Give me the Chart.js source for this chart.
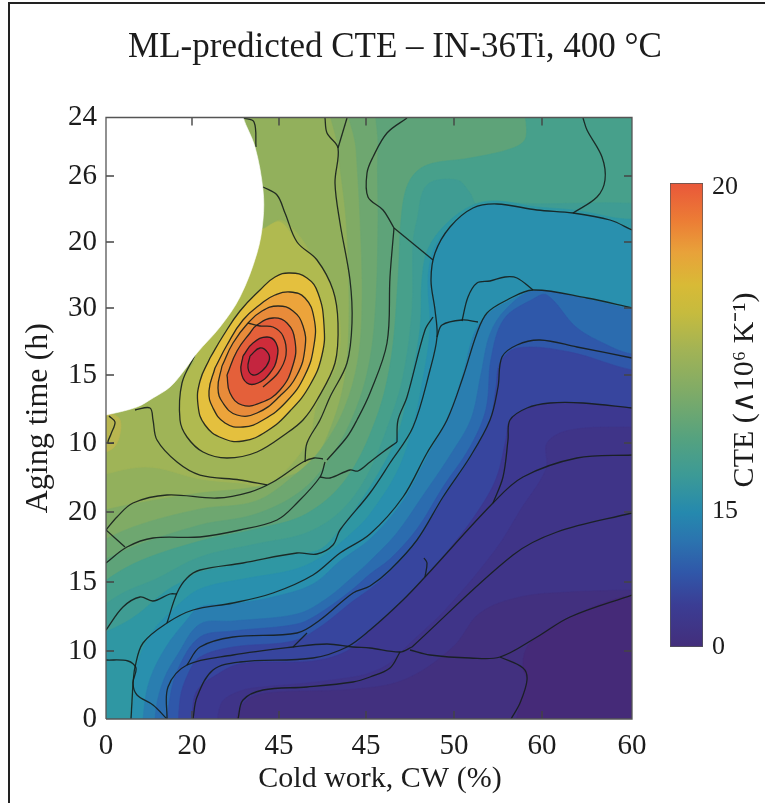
<!DOCTYPE html>
<html><head><meta charset="utf-8">
<style>html,body{margin:0;padding:0;background:#fff;width:765px;height:803px;overflow:hidden}
canvas{position:absolute;top:0;filter:blur(0.35px)}
#edgeTop{position:absolute;left:8px;top:2px;width:757px;height:2px;background:#222}
#edgeLeft{position:absolute;left:8px;top:2px;width:2px;height:801px;background:#222}</style>
<script src="https://cdn.jsdelivr.net/npm/chart.js@4/dist/chart.umd.js"></script>
</head><body>
<div id="edgeTop"></div><div id="edgeLeft"></div>
<div id="m" style="position:absolute;left:15px;top:0;width:760px;height:803px"><canvas id="main"></canvas></div>
<div id="c" style="position:absolute;left:640px;top:0;width:125px;height:803px"><canvas id="bar"></canvas></div>
<script>
const chartTitle = "ML-predicted CTE – IN-36Ti, 400 °C";
const xAxisTitle = "Cold work, CW (%)";
const yAxisTitle = "Aging time (h)";
const colorbarTitle = "CTE (∧10⁶ K⁻¹)";
const xTickLabels = ["0","20","45","45","50","60","60"];
const xTickValues = [0,86,173,260,348,436,526];
const yTickLabels = ["0","10","15","20","10","15","30","20","26","24"];
const yTickValues = [0,68,137,207,276,344,411,477,543,601.5];
const colorbarTickLabels = ["0","15","20"];
const colorbarTickValues = [0,136,460];

// filled bands, painted from the top-left plateau to the lower-right trough
const bandColors = ["#92B05C","#9FB457","#B0BA50","#B9B650","#80AB65","#6EA770","#5EA379","#47A08B","#3F9C93","#2F97A3","#2990AE","#2A7EB0","#2B6CAF","#2F58AA","#37459E","#3D3890","#3F3488","#42307F","#452A78"];
const band00 = [[-20,-20],[560,-20],[560,640],[-20,640]];
const band01 = [[-20,240],[40,252],[94,240],[134,236],[161,234],[201,276],[211,316],[231,356],[234,396],[227,429],[207,462],[191,486],[174,499],[157,490],[120,520],[-20,520]];
const band02 = [[157,490],[174,497],[191,477],[211,459],[227,429],[232,396],[229,356],[211,319],[197,299],[181,286],[151,267],[121,261],[97,267],[81,282],[74,299],[76,336],[89,364],[60,400],[120,500]];
const band02b = [[-20,310],[12,302],[14,285],[6,270],[-20,262]];
const band03 = [[-20,205],[27,215],[94,226],[150,232],[175,240],[205,255],[228,300],[240,350],[243,420],[240,500],[232,570],[228,640],[600,640],[600,-30],[-20,-30]];
const band04 = [[-20,170],[27,192],[94,210],[150,218],[190,245],[215,270],[238,310],[252,360],[256,420],[254,500],[250,570],[245,640],[600,640],[600,-30],[-20,-30]];
const band05 = [[-20,150],[27,172],[94,194],[150,205],[195,228],[225,262],[250,310],[264,360],[270,420],[272,500],[272,570],[280,640],[600,640],[600,-30],[-20,-30]];
const band06 = [[-20,125],[27,155],[94,178],[150,190],[200,205],[240,240],[270,300],[285,360],[292,440],[296,509],[304,539],[321,554],[364,561],[407,571],[420,582],[422,640],[600,640],[600,-30],[-20,-30]];
const band07 = [[-20,100],[15,125],[50,140],[94,162],[150,175],[200,186],[235,208],[262,245],[284,299],[297,342],[306,409],[307,476],[311,499],[321,534],[351,539],[364,526],[371,514],[391,518],[600,480],[600,-30],[-20,-30]];
const band08 = [[-20,78],[25,100],[60,128],[81,140],[94,147],[137,155],[191,165],[215,170],[234,190],[264,232],[290,280],[303,330],[314,390],[316,440],[322,470],[340,495],[367,514],[391,518],[431,512],[467,509],[504,502],[600,480],[600,-30],[-20,-30]];
const band09 = [[20,-30],[28,20],[30,50],[45,85],[70,112],[94,130],[137,140],[190,150],[220,165],[250,190],[264,205],[290,245],[305,285],[317,340],[324,390],[322,440],[328,470],[344,492],[367,511],[391,515],[431,509],[467,506],[504,499],[526,489],[600,470],[600,-30]];
const band10 = [[36,-30],[38,10],[44,40],[60,72],[80,98],[94,112],[127,115],[167,122],[207,135],[234,158],[264,180],[297,218],[321,262],[341,300],[357,345],[368,385],[381,404],[401,417],[427,427],[481,419],[526,409],[600,400],[600,-30]];
const band11 = [[48,-30],[50,10],[58,40],[72,65],[94,95],[127,98],[191,105],[220,120],[250,145],[264,158],[290,185],[318,225],[345,265],[365,300],[375,345],[384,385],[400,410],[427,428],[481,420],[526,410],[600,400],[600,-30]];
const band12 = [[60,-30],[63,15],[72,50],[94,82],[127,88],[191,95],[214,106],[247,130],[264,145],[284,160],[311,190],[337,232],[364,272],[380,310],[385,360],[398,400],[427,420],[441,424],[470,392],[497,376],[526,365],[600,360],[600,-30]];
const band13 = [[72,-30],[74,20],[82,45],[94,62],[127,72],[187,78],[214,92],[247,118],[264,130],[284,147],[311,177],[337,220],[364,260],[384,299],[390,332],[394,356],[411,371],[464,367],[526,349],[600,340],[600,-30]];
const band14 = [[85,-30],[87,15],[92,30],[107,42],[134,55],[207,58],[241,68],[264,88],[297,118],[319,142],[345,172],[370,205],[390,240],[400,280],[404,299],[421,310],[444,316],[477,316],[526,311],[600,305],[600,-30]];
const band15 = [[110,-30],[115,15],[134,28],[157,32],[201,36],[247,42],[264,46],[284,56],[300,72],[340,110],[390,170],[415,210],[440,250],[441,276],[464,289],[526,292],[600,292],[600,-30]];
const band16 = [[125,-30],[130,0],[140,18],[160,26],[250,30],[300,40],[347,72],[374,106],[414,122],[464,127],[526,129],[600,130],[600,-30]];
const band17 = [[405,-30],[414,16],[421,39],[417,51],[420,70],[431,82],[464,102],[526,124],[600,126],[600,-30]];
const bands = [band00,band01,band02,band02b,band03,band04,band05,band06,band07,band08,band09,band10,band11,band12,band13,band14,band15,band16,band17];

// closed rings around the peak, outermost first, each starting on its left flank
const ringColors = ["#E4C03E","#ECA43B","#E88B3A","#E4603A","#CE2C3A","#C4253F"];
const ring1 = [[104,361],[117,383],[134,408],[154,429],[169,442],[184,446],[201,441],[212,426],[218,394],[216,364],[204,334],[184,308],[161,288],[137,278],[116,281],[99,294],[92,314],[94,338],[104,361]];
const ring2 = [[109,351],[121,374],[137,399],[156,416],[169,424],[184,427],[199,421],[208,401],[208,374],[199,344],[181,318],[157,299],[137,292],[119,296],[107,311],[103,328],[109,351]];
const ring3 = [[116,353],[127,376],[142,396],[156,408],[172,413],[187,408],[197,393],[199,371],[191,344],[174,323],[151,306],[131,304],[117,316],[112,331],[116,353]];
const ring4 = [[121,344],[131,368],[144,386],[151,394],[167,401],[181,396],[189,378],[187,354],[174,329],[154,316],[136,314],[124,326],[121,344]];
const ring5 = [[137,363],[147,376],[161,382],[170,376],[171,361],[164,346],[152,336],[141,336],[135,348],[137,363]];
const ring6 = [[144,363],[154,371],[162,366],[163,358],[156,348],[147,344],[142,351],[144,363]];
const rings = [ring1,ring2,ring3,ring4,ring5,ring6];

// region with no prediction
const emptyRegion = [[-40,296],[0,304],[31,312],[47,321],[64,332],[77,347],[91,366],[114,392],[134,422],[151,466],[157,499],[157,529],[149,572],[137,602],[125,650],[-40,650]];

// open contour lines
const contours = [
 [[137,601],[148,597],[150,572]],
 [[157,532],[171,524],[179,506],[191,477],[211,459],[227,429],[232,396],[229,356],[211,319],[197,299],[181,286],[151,267],[121,261],[97,267],[81,282],[74,299],[76,336],[89,364]],
 [[219,601],[221,586],[232,571],[229,536],[234,496],[244,439],[246,396],[241,356],[224,322],[214,299],[201,276],[199,257]],
 [[241,601],[232,571]],
 [[301,601],[281,586],[267,562],[261,546],[262,522],[277,509],[288,491]],
 [[288,491],[327,459]],
 [[288,491],[284,442],[281,376],[264,326],[251,299],[241,282],[221,259]],
 [[214,242],[224,241],[244,249],[252,248],[264,257],[277,267],[291,277]],
 [[291,277],[292,299],[301,322],[319,389],[327,402]],
 [[61,96],[71,126],[81,141],[94,149],[137,156],[191,166],[211,165],[227,174],[234,189],[264,226],[284,256],[307,292],[324,349],[331,382],[329,409],[325,439],[329,466],[344,492],[367,511],[391,515],[431,509],[467,506],[504,499],[526,489]],
 [[0,89],[17,112],[34,122],[47,118],[64,125],[71,125]],
 [[0,189],[11,202],[27,216],[61,224],[111,221],[144,227],[167,237],[197,257],[208,261],[217,260]],
 [[0,156],[21,172],[47,181],[94,182],[134,189],[171,199],[191,216],[214,242],[219,257]],
 [[0,189],[19,172]],
 [[29,309],[44,311],[47,299],[51,279],[71,257],[94,244],[134,239],[161,234]],
 [[3,303],[9,297],[5,285],[2,276],[8,276]],
 [[27,36],[29,52],[37,76],[61,96],[87,109],[127,116],[167,126],[207,144],[234,166],[264,185],[297,222],[321,266],[341,299],[357,342],[371,386],[381,406],[401,419],[427,429],[481,421],[526,411]],
 [[427,429],[411,441],[399,442],[384,438],[371,436],[362,422],[356,398]],
 [[331,382],[336,394],[356,399],[372,397]],
 [[81,54],[94,72],[127,82],[191,86],[214,99],[247,126],[264,133],[284,149],[311,179],[337,222],[364,262],[384,299],[392,332],[396,362],[411,374],[434,379],[471,372],[526,361]],
 [[61,0],[62,32],[81,54],[127,64],[187,72],[221,75],[247,72],[264,71],[294,67],[306,72]],
 [[187,72],[201,86]],
 [[87,0],[91,22],[107,49],[134,57],[207,61],[241,72],[264,89],[297,119],[319,142],[387,216],[417,242],[471,261],[526,264]],
 [[387,216],[397,242],[402,279],[404,299],[421,311],[444,316],[477,316],[526,311]],
 [[319,142],[321,156],[318,161]],
 [[132,0],[137,19],[157,29],[201,32],[247,37],[264,42],[284,51],[294,67]],
 [[306,72],[407,164],[451,187],[526,206]],
 [[304,69],[324,64],[364,61],[394,62],[431,82],[464,102],[526,124]],
 [[394,62],[417,51],[421,39],[414,16],[405,0]],
 [[0,59],[22,58],[30,51],[27,36],[31,24],[47,14],[61,0]],
 [[25,0],[27,36]],
 [[477,601],[481,589],[496,562],[499,539],[491,522],[467,506]],
 [[142,396],[154,393],[167,392],[177,383],[180,364],[172,346],[157,332]]
];

const colorbarStops = [[0,"#E9573A"],[.08,"#EC7C35"],[.15,"#E8A23A"],[.22,"#D8BA36"],[.28,"#C6BB3E"],[.36,"#A2B355"],[.45,"#7FAB67"],[.55,"#55A27F"],[.63,"#3C9A96"],[.71,"#2589AE"],[.77,"#2B74AF"],[.84,"#3057A9"],[.91,"#3B3D94"],[1,"#432E7B"]];
const colorbarRange = [0,464];

const xy = a => a.map(([x,y]) => ({x,y}));
const serif = '"Liberation Serif", "Times New Roman", serif';
const ink = "#1c1c1c";
const lineInk = "rgba(22,30,28,0.9)";
const fillSet = (pts,color,t=0.35) => ({data:xy(pts),showLine:true,fill:"shape",backgroundColor:color,borderColor:color,borderWidth:0.6,pointRadius:0,tension:t});
const lineSet = (pts,t=0.35) => ({data:xy(pts),showLine:true,fill:false,borderColor:lineInk,borderWidth:1.3,pointRadius:0,tension:t});

const tickLen = 8;
const xMax = xTickValues[xTickValues.length-1], yMax = yTickValues[yTickValues.length-1];
const tickSegs = [];
const gap = {x:NaN,y:NaN};
xTickValues.slice(1,-1).forEach(v => tickSegs.push({x:v,y:0},{x:v,y:tickLen},gap,{x:v,y:yMax},{x:v,y:yMax-tickLen},gap));
yTickValues.slice(1,-1).forEach(v => tickSegs.push({x:0,y:v},{x:tickLen,y:v},gap,{x:xMax,y:v},{x:xMax-tickLen,y:v},gap));

const layered = [];
bands.forEach((b,i) => layered.push(fillSet(b,bandColors[i])));
rings.forEach((r,i) => layered.push(fillSet(r,ringColors[i],0.45)));
contours.forEach(c => layered.push(lineSet(c)));
rings.forEach(r => layered.push(lineSet(r,0.45)));
layered.push(fillSet(emptyRegion,"#ffffff",0.35));
layered.push({data:tickSegs,showLine:true,fill:false,borderColor:"#444",borderWidth:1.4,pointRadius:0,tension:0,spanGaps:false});
layered.push({data:[{x:0,y:0},{x:xMax,y:0},{x:xMax,y:yMax},{x:0,y:yMax},{x:0,y:0}],showLine:true,fill:false,borderColor:"#555",borderWidth:1.3,pointRadius:0,tension:0,clip:4});

function shiftTitle(scale,dx,dy){
  if(scale.$shifted) return; scale.$shifted=true;
  const orig=scale.drawTitle.bind(scale);
  scale.drawTitle=function(){const c=this.ctx;c.save();c.translate(dx,dy);orig();c.restore();};
}

new Chart(document.getElementById("main"),{
  type:"scatter",
  data:{datasets:layered.slice().reverse()},
  options:{
    responsive:true,maintainAspectRatio:false,animation:false,
    elements:{line:{capBezierPoints:false}},
    plugins:{
      legend:{display:false},tooltip:{enabled:false},
      title:{display:true,text:chartTitle,color:ink,font:{family:serif,size:35,weight:"normal"},padding:{top:27,bottom:48.5}}
    },
    scales:{
      x:{type:"linear",min:0,max:xMax,grid:{display:false,drawTicks:false},border:{display:false},
        afterBuildTicks:s=>{s.ticks=xTickValues.map(v=>({value:v}));},
        afterFit:s=>{s.height=84;shiftTitle(s,11,0);},
        ticks:{autoSkip:false,maxRotation:0,color:ink,font:{family:serif,size:29},padding:10,callback:(v,i)=>xTickLabels[i]},
        title:{display:true,text:xAxisTitle,color:ink,font:{family:serif,size:30},padding:{top:0,bottom:6}}},
      y:{type:"linear",min:0,max:yMax,grid:{display:false,drawTicks:false},border:{display:false},
        afterBuildTicks:s=>{s.ticks=yTickValues.map(v=>({value:v}));},
        afterFit:s=>{s.width=91;shiftTitle(s,4,0);},
        ticks:{autoSkip:false,color:ink,font:{family:serif,size:29},padding:9,callback:(v,i)=>yTickLabels[i]},
        title:{display:true,text:yAxisTitle,color:ink,font:{family:serif,size:32},padding:{top:0,bottom:0}}},
      rightGutter:{type:"linear",position:"right",min:0,max:1,grid:{display:false,drawTicks:false},border:{display:false},
        ticks:{display:false},afterFit:s=>{s.width=143;}}
    }
  }
});

const barTitlePlugin={id:"barTitle",afterDraw(ch){
  const c=ch.ctx;c.save();c.translate(105,390);c.rotate(-Math.PI/2);
  c.font='30px '+serif;c.fillStyle=ink;c.textAlign="center";c.textBaseline="middle";
  c.fillText(colorbarTitle,0,0);c.restore();
}};
new Chart(document.getElementById("bar"),{
  type:"bar",
  data:{labels:["CTE"],datasets:[{data:[colorbarRange],
    backgroundColor:(ctx)=>{const a=ctx.chart.chartArea;if(!a)return"#888";
      const g=ctx.chart.ctx.createLinearGradient(0,a.top,0,a.bottom);
      colorbarStops.forEach(([p,col])=>g.addColorStop(p,col));return g;},
    borderColor:"#555",borderWidth:1,barPercentage:1,categoryPercentage:1,borderSkipped:false}]},
  options:{
    responsive:true,maintainAspectRatio:false,animation:false,
    layout:{padding:{left:30,right:0,top:183,bottom:156}},
    plugins:{legend:{display:false},tooltip:{enabled:false}},
    scales:{
      x:{display:false},
      y:{position:"right",min:colorbarRange[0],max:colorbarRange[1],grid:{display:false,drawTicks:false},border:{display:false},
        afterBuildTicks:s=>{s.ticks=colorbarTickValues.map(v=>({value:v}));},
        afterFit:s=>{s.width=62;},
        ticks:{autoSkip:false,color:ink,font:{family:serif,size:26},padding:9,callback:(v,i)=>colorbarTickLabels[i]}}
    }
  },
  plugins:[barTitlePlugin]
});
</script>
</body></html>
